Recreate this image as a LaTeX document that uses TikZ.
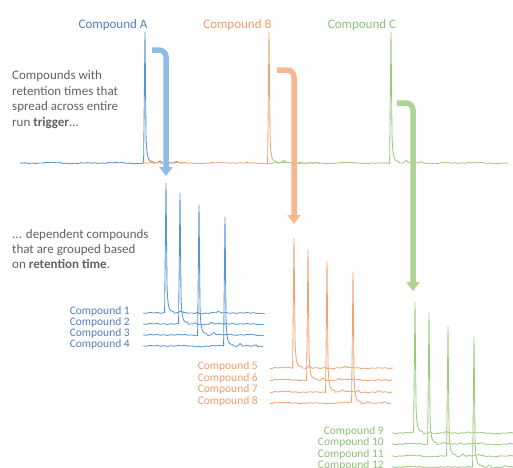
\documentclass[tikz,border=0pt]{standalone}
\usepackage{fontspec}
\setmainfont{Carlito}
\usetikzlibrary{arrows.meta}
\definecolor{bline}{HTML}{5596D3}
\definecolor{oline}{HTML}{F0A574}
\definecolor{gline}{HTML}{9DCB82}
\definecolor{barr}{HTML}{8FBCE6}
\definecolor{oarr}{HTML}{F5B890}
\definecolor{garr}{HTML}{ADD494}
\definecolor{blab}{HTML}{4F7FC0}
\definecolor{olab}{HTML}{EE9D68}
\definecolor{glab}{HTML}{8CBF72}
\definecolor{txt}{HTML}{616161}
\tikzset{
  declare function={nz(\t)=0.55*sin(\t*29)*cos(\t*23+20)+0.35*sin(\t*11+50);
                    bp(\d)=max(0,1-abs(\d)/2.5);},
  trace/.style={line width=0.85pt, line join=round},
  arrowline/.style={line width=5.5pt, rounded corners=7pt, -{Triangle[width=13pt,length=9pt]}},
  bodytext/.style={font=\fontsize{13}{15.5}\selectfont, text=txt, inner sep=0pt, anchor=base west},
  toplab/.style={font=\fontsize{13}{15.5}\selectfont, inner sep=0pt, anchor=base},
  cmplab/.style={font=\fontsize{11.5}{13}\selectfont, inner sep=0pt, anchor=base east}
}
% color, x0, peak x, baseline y, top y, x1
\newcommand{\trc}[6]{%
  \draw[trace,#1] plot[domain=#2:#3-1.4,samples=60] (\x,{#4+nz(\x)})
    -- (#3,#5) -- (#3+1,{#4-0.22*(#4-#5)})
    .. controls (#3+1.8,#4-4) and (#3+3,#4-1.8) .. (#3+8,#4-1.2)
    -- plot[domain=#3+8:#6,samples=90] (\x,{#4+nz(\x)-2.2*bp(\x-#3-15)-1.4*bp(\x-#3-31)-1.0*bp(\x-#3-52)});}
\begin{document}
\begin{tikzpicture}[x=1pt,y=-1pt]
\useasboundingbox (0,0) rectangle (513,467);
\clip (0,0) rectangle (513,467);

% top chromatogram
\trc{bline}{20}{145}{163}{32}{185}
\trc{oline}{142}{269}{163}{32}{320}
\trc{gline}{265}{391}{163}{32}{508}

\node[toplab, text=blab] (ca) at (113,28) {Compound A};
\node[toplab, text=olab] (cb) at (237.5,28) {Compound B};
\node[toplab, text=glab] (cc) at (362,28) {Compound C};

% arrows
\draw[arrowline, barr] (152,50) -- (166,50) -- (166,176);
\draw[arrowline, oarr] (277,70) -- (294,70) -- (294,224);
\draw[arrowline, garr] (397,103) -- (413,103) -- (413,291);

% texts
\node[bodytext] (t1) at (12,79.5) {Compounds with};
\node[bodytext] (t2) at (12,95) {retention times that};
\node[bodytext] (t3) at (12,110.5) {spread across entire};
\node[bodytext] (t4) at (12,126) {run \textbf{trigger}...};
\node[bodytext] (u1) at (12,238) {... dependent compounds};
\node[bodytext] (u2) at (12,253.3) {that are grouped based};
\node[bodytext] (u3) at (12,268.6) {on \textbf{retention time}.};

% blue group
\trc{bline}{143}{166}{313}{183}{265}
\trc{bline}{143}{180}{324}{193}{264}
\trc{bline}{143}{199}{335}{205}{264}
\trc{bline}{143}{225}{346}{217}{263}
\node[cmplab, text=blab] (c1) at (130,314) {Compound 1};
\node[cmplab, text=blab] (c2) at (130,325) {Compound 2};
\node[cmplab, text=blab] (c3) at (130,336) {Compound 3};
\node[cmplab, text=blab] (c4) at (130,347) {Compound 4};

% orange group
\trc{oline}{270}{294}{368}{238}{393}
\trc{oline}{270}{308}{380}{250}{392}
\trc{oline}{270}{327}{392}{261}{392}
\trc{oline}{270}{353}{403}{272}{391}
\node[cmplab, text=olab] (c5) at (258,369) {Compound 5};
\node[cmplab, text=olab] (c6) at (258,381) {Compound 6};
\node[cmplab, text=olab] (c7) at (258,392.5) {Compound 7};
\node[cmplab, text=olab] (c8) at (258,404) {Compound 8};

% green group
\trc{gline}{392}{415}{433}{302}{520}
\trc{gline}{392}{429}{444}{313}{520}
\trc{gline}{392}{448}{456}{326}{520}
\trc{gline}{392}{474}{467}{337}{520}
\node[cmplab, text=glab] (c9) at (384,434) {Compound 9};
\node[cmplab, text=glab] (c10) at (384,445.5) {Compound 10};
\node[cmplab, text=glab] (c11) at (384,457) {Compound 11};
\node[cmplab, text=glab] (c12) at (384,468.5) {Compound 12};
\end{tikzpicture}
\end{document}
